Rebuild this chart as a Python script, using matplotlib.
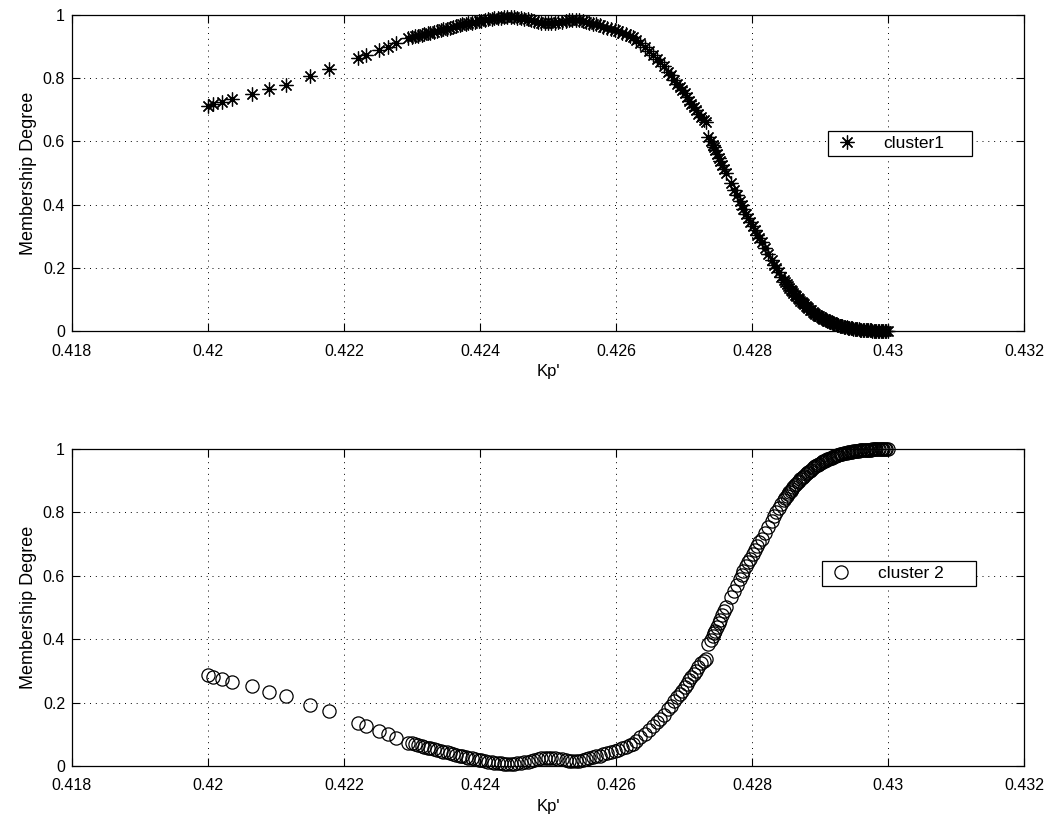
import matplotlib
matplotlib.use("Agg")
import matplotlib.pyplot as plt

plt.rcParams['font.family'] = ['Liberation Sans', 'DejaVu Sans']

# Kp' values (shared by both clusters)
kp = [
    0.42000, 0.42007, 0.42020, 0.42036, 0.42064, 0.42090, 0.42114, 0.42150,
    0.42178, 0.42220, 0.42232, 0.42251, 0.42265, 0.42276, 0.42294,
    0.42300, 0.42305, 0.42309, 0.42314, 0.42318, 0.42323, 0.42327, 0.42333,
    0.42337, 0.42342, 0.42346, 0.42351, 0.42356, 0.42360, 0.42365, 0.42370,
    0.42374, 0.42379, 0.42383, 0.42388, 0.42393, 0.42398, 0.42402, 0.42407,
    0.42412, 0.42417, 0.42421, 0.42426, 0.42431, 0.42436, 0.42440, 0.42445,
    0.42450, 0.42455, 0.42460, 0.42465, 0.42470, 0.42475, 0.42480, 0.42485,
    0.42490, 0.42495, 0.42500, 0.42505, 0.42510, 0.42515, 0.42520, 0.42526,
    0.42531, 0.42536, 0.42541, 0.42546, 0.42551, 0.42556, 0.42561, 0.42566,
    0.42571, 0.42576, 0.42581, 0.42587, 0.42592, 0.42598, 0.42603, 0.42609,
    0.42614, 0.42620, 0.42625,
    0.42630, 0.42636, 0.42642, 0.42648, 0.42655, 0.42660, 0.42665, 0.42671,
    0.42677, 0.42681, 0.42686, 0.42690, 0.42694, 0.42697, 0.42701, 0.42704,
    0.42708, 0.42711, 0.42714, 0.42717, 0.42721, 0.42725, 0.42729, 0.42733,
    0.42736, 0.42739, 0.42742, 0.42744, 0.42746, 0.42749, 0.42751, 0.42753,
    0.42756, 0.42759, 0.42762, 0.42769, 0.42774, 0.42778, 0.42782, 0.42785,
    0.42787, 0.42791, 0.42794, 0.42797, 0.42801, 0.42804, 0.42808, 0.42811,
    0.42814, 0.42819, 0.42824, 0.42829, 0.42833, 0.42836, 0.42839, 0.42843,
    0.42847, 0.42851, 0.42855, 0.42859, 0.42863, 0.42867, 0.42871, 0.42875,
    0.42879, 0.42883, 0.42887, 0.42891, 0.42895, 0.42899, 0.42903, 0.42907,
    0.42911, 0.42915, 0.42919, 0.42923, 0.42927, 0.42931, 0.42935, 0.42939,
    0.42943, 0.42947, 0.42951, 0.42955, 0.42959, 0.42963, 0.42967, 0.42971,
    0.42975, 0.42979, 0.42983, 0.42987, 0.42991, 0.42995, 0.43000,
    0.42849, 0.42853, 0.42857, 0.42861, 0.42865, 0.42869, 0.42873, 0.42877,
    0.42881, 0.42885, 0.42889, 0.42893, 0.42897, 0.42901, 0.42905, 0.42909,
    0.42913, 0.42917, 0.42921, 0.42925, 0.42929, 0.42933, 0.42937, 0.42941,
    0.42945, 0.42949, 0.42953, 0.42957, 0.42961, 0.42965, 0.42969, 0.42973,
    0.42977, 0.42981, 0.42985, 0.42989, 0.42993, 0.42997,
]

cluster1 = [
    0.713, 0.718, 0.724, 0.734, 0.749, 0.765, 0.780, 0.807,
    0.828, 0.863, 0.874, 0.889, 0.900, 0.911, 0.926,
    0.929, 0.932, 0.934, 0.937, 0.939, 0.942, 0.944, 0.947,
    0.950, 0.952, 0.955, 0.957, 0.960, 0.962, 0.965, 0.967,
    0.970, 0.972, 0.974, 0.976, 0.978, 0.980, 0.982, 0.984,
    0.986, 0.988, 0.989, 0.991, 0.992, 0.993, 0.993, 0.994,
    0.993, 0.992, 0.990, 0.988, 0.986, 0.983, 0.980, 0.978,
    0.976, 0.975, 0.974, 0.974, 0.975, 0.977, 0.979, 0.981,
    0.983, 0.984, 0.985, 0.984, 0.982, 0.979, 0.976, 0.973,
    0.970, 0.967, 0.963, 0.960, 0.956, 0.952, 0.948, 0.944,
    0.940, 0.935, 0.930,
    0.922, 0.910, 0.898, 0.886, 0.873, 0.862, 0.852, 0.838,
    0.821, 0.810, 0.795, 0.783, 0.772, 0.763, 0.752, 0.742,
    0.729, 0.719, 0.710, 0.700, 0.687, 0.676, 0.668, 0.662,
    0.615, 0.602, 0.590, 0.582, 0.573, 0.560, 0.548, 0.538,
    0.524, 0.512, 0.499, 0.467, 0.447, 0.430, 0.411, 0.398,
    0.386, 0.370, 0.357, 0.346, 0.332, 0.320, 0.305, 0.294,
    0.283, 0.264, 0.245, 0.226, 0.210, 0.198, 0.186, 0.172,
    0.160, 0.148, 0.137, 0.126, 0.115, 0.105, 0.096, 0.088,
    0.080, 0.072, 0.065, 0.058, 0.052, 0.047, 0.042, 0.037,
    0.033, 0.029, 0.025, 0.022, 0.019, 0.016, 0.014, 0.012,
    0.010, 0.008, 0.007, 0.005, 0.004, 0.003, 0.003, 0.002,
    0.002, 0.001, 0.001, 0.001, 0.000, 0.000, 0.000,
    0.154, 0.142, 0.131, 0.120, 0.110, 0.100, 0.092, 0.084,
    0.076, 0.068, 0.061, 0.055, 0.049, 0.044, 0.039, 0.035,
    0.031, 0.027, 0.023, 0.020, 0.017, 0.015, 0.013, 0.011,
    0.009, 0.007, 0.006, 0.005, 0.004, 0.003, 0.002, 0.002,
    0.001, 0.001, 0.001, 0.000, 0.000, 0.000,
]

cluster2 = [
    0.287, 0.282, 0.276, 0.266, 0.251, 0.235, 0.220, 0.193,
    0.172, 0.137, 0.126, 0.111, 0.100, 0.089, 0.074,
    0.071, 0.068, 0.066, 0.063, 0.061, 0.058, 0.056, 0.053,
    0.050, 0.048, 0.045, 0.043, 0.040, 0.038, 0.035, 0.033,
    0.030, 0.028, 0.026, 0.024, 0.022, 0.020, 0.018, 0.016,
    0.014, 0.012, 0.011, 0.009, 0.008, 0.007, 0.007, 0.006,
    0.007, 0.008, 0.010, 0.012, 0.014, 0.017, 0.020, 0.022,
    0.024, 0.025, 0.026, 0.026, 0.025, 0.023, 0.021, 0.019,
    0.017, 0.016, 0.015, 0.016, 0.018, 0.021, 0.024, 0.027,
    0.030, 0.033, 0.037, 0.040, 0.044, 0.048, 0.052, 0.056,
    0.060, 0.065, 0.070,
    0.078, 0.090, 0.102, 0.114, 0.127, 0.138, 0.148, 0.162,
    0.179, 0.190, 0.205, 0.217, 0.228, 0.237, 0.248, 0.258,
    0.271, 0.281, 0.290, 0.300, 0.313, 0.324, 0.332, 0.338,
    0.385, 0.398, 0.410, 0.418, 0.427, 0.440, 0.452, 0.462,
    0.476, 0.488, 0.501, 0.533, 0.553, 0.570, 0.589, 0.602,
    0.614, 0.630, 0.643, 0.654, 0.668, 0.680, 0.695, 0.706,
    0.717, 0.736, 0.755, 0.774, 0.790, 0.802, 0.814, 0.828,
    0.840, 0.852, 0.863, 0.874, 0.885, 0.895, 0.904, 0.912,
    0.920, 0.928, 0.935, 0.942, 0.948, 0.953, 0.958, 0.963,
    0.967, 0.971, 0.975, 0.978, 0.981, 0.984, 0.986, 0.988,
    0.990, 0.992, 0.993, 0.995, 0.996, 0.997, 0.997, 0.998,
    0.998, 0.999, 0.999, 0.999, 1.000, 1.000, 1.000,
    0.846, 0.858, 0.869, 0.880, 0.890, 0.900, 0.908, 0.916,
    0.924, 0.932, 0.939, 0.945, 0.951, 0.956, 0.961, 0.965,
    0.969, 0.973, 0.977, 0.980, 0.983, 0.985, 0.987, 0.989,
    0.991, 0.993, 0.994, 0.995, 0.996, 0.997, 0.998, 0.998,
    0.999, 0.999, 0.999, 1.000, 1.000, 1.000,
]

x_ticks = [0.418, 0.42, 0.422, 0.424, 0.426, 0.428, 0.43, 0.432]
x_tick_labels = ['0.418', '0.42', '0.422', '0.424', '0.426', '0.428', '0.43', '0.432']
y_ticks = [0, 0.2, 0.4, 0.6, 0.8, 1]
y_tick_labels = ['0', '0.2', '0.4', '0.6', '0.8', '1']

W, H = 1058, 827
fig = plt.figure(figsize=(W / 100, H / 100), dpi=100)

ax1 = fig.add_axes([72 / W, 1 - 331 / H, 952 / W, 316 / H])
ax2 = fig.add_axes([72 / W, 1 - 766 / H, 952 / W, 317 / H])

# markers are not clipped at the axes box, like the original
ax1.plot(kp, cluster1, linestyle='none', marker=(8, 2, 0), markersize=10,
         markeredgewidth=0.9, color='black', label='cluster1', clip_on=False)
ax2.plot(kp, cluster2, linestyle='none', marker='o', markersize=9.5,
         markerfacecolor='none', markeredgewidth=0.9, color='black',
         label='cluster 2', clip_on=False)

for ax in (ax1, ax2):
    ax.set_xlim(0.418, 0.432)
    ax.set_ylim(0, 1)
    ax.set_xticks(x_ticks)
    ax.set_xticklabels(x_tick_labels)
    ax.set_yticks(y_ticks)
    ax.set_yticklabels(y_tick_labels)
    ax.tick_params(direction='in', top=True, right=True, length=6,
                   width=0.8, labelsize=11.5)
    ax.tick_params(axis='x', pad=9)
    ax.tick_params(axis='y', pad=5)
    ax.grid(True, color='black', linestyle=(0, (1, 5)), linewidth=0.7)
    for s in ax.spines.values():
        s.set_linewidth(0.9)
    ax.set_xlabel("Kp'", fontsize=12, labelpad=4)
    ax.set_ylabel('Membership Degree', fontsize=13, labelpad=4)

leg_kw = dict(loc='center', mode='expand', fancybox=False, edgecolor='black',
              framealpha=1, fontsize=12.5, handlelength=1.6, handletextpad=1.3,
              borderpad=0.3, borderaxespad=0)
leg1 = ax1.legend(bbox_to_anchor=(0.794, 0.548, 0.151, 0.09), **leg_kw)
leg2 = ax2.legend(bbox_to_anchor=(0.788, 0.562, 0.162, 0.09), **leg_kw)
for leg in (leg1, leg2):
    leg.get_frame().set_linewidth(0.9)

fig.savefig('out.png', dpi=100)
